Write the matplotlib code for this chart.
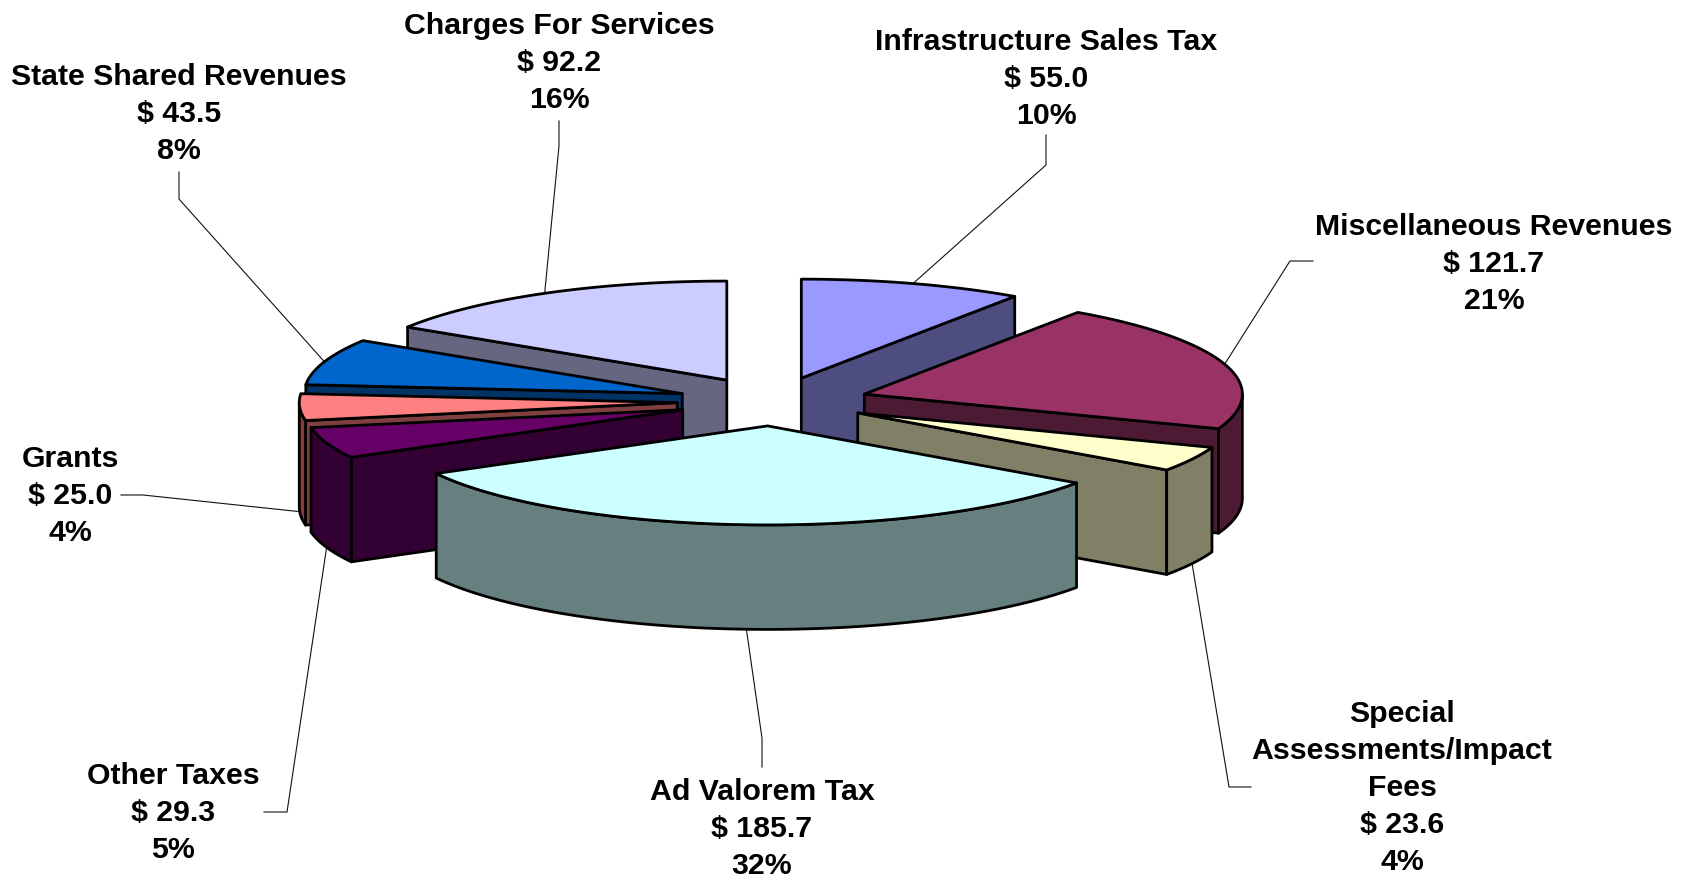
import matplotlib
matplotlib.use("Agg")
import matplotlib.pyplot as plt
import numpy as np

names = ["Infrastructure Sales Tax", "Miscellaneous Revenues", "Special\nAssessments/Impact\nFees",
         "Ad Valorem Tax", "Other Taxes", "Grants", "State Shared Revenues", "Charges For Services"]
values = [55.0, 121.7, 23.6, 185.7, 29.3, 25.0, 43.5, 92.2]

top_colors = ["#9999FF", "#993366", "#FFFFCC", "#CCFFFF", "#660066", "#FF8080", "#0066CC", "#CCCCFF"]
side_colors = ["#4D4D80", "#4D1A33", "#808066", "#668080", "#330033", "#804040", "#003366", "#666680"]

# back to front
draw_order = [7, 0, 6, 5, 4, 1, 2, 3]

label_x = [1046, 1494, 1402, 762, 173, 70, 179, 559]
label_y = [79, 264, 788, 829, 813, 496, 114, 63]
elbow = [[(1046, 165), (1046, 135)], [(1290, 261), (1313, 261)], [(1229, 787), (1251, 787)],
         [(762, 738), (762, 767)], [(287, 812), (264, 812)], [(143, 495), (121, 495)],
         [(179, 199), (179, 172)], [(559, 146), (559, 121)]]

cx, cy = 773, 401.5
rx, ry = 378, 99
depth = 104.5
explode_x, explode_y = 0.2535, 0.247
edge_w = 2.0

plt.rcParams['font.family'] = ['Liberation Sans', 'DejaVu Sans']
fig = plt.figure(figsize=(16.9, 8.8), dpi=100)
ax = fig.add_axes([0, 0, 1, 1])
ax.set_xlim(0, 1690)
ax.set_ylim(880, 0)
ax.axis('off')

total = sum(values)
angles = np.concatenate([[0], np.cumsum(values) / total * 360])


def pt(x0, y0, deg):
    t = np.radians(deg)
    return x0 + rx * np.sin(t), y0 - ry * np.cos(t)


def face(xs, ys, color, z):
    ax.fill(xs, ys, facecolor=color, edgecolor='black', linewidth=edge_w, joinstyle='round', zorder=z)


for n, i in enumerate(draw_order):
    a0, a1 = angles[i], angles[i + 1]
    mid = (a0 + a1) / 2
    x0, y0 = pt(cx, cy, mid)
    x0 = cx + (x0 - cx) * explode_x
    y0 = cy + (y0 - cy) * explode_y
    z = 3 + n
    # cut faces
    if np.sin(np.radians(a0)) < 0:
        xe, ye = pt(x0, y0, a0)
        face([x0, xe, xe, x0], [y0, ye, ye + depth, y0 + depth], side_colors[i], z)
    if np.sin(np.radians(a1)) > 0:
        xe, ye = pt(x0, y0, a1)
        face([x0, xe, xe, x0], [y0, ye, ye + depth, y0 + depth], side_colors[i], z)
    # outer wall, front part only
    lo, hi = max(a0, 90), min(a1, 270)
    if hi > lo:
        t = np.linspace(lo, hi, 80)
        xa, ya = pt(x0, y0, t)
        face(np.r_[xa, xa[::-1]], np.r_[ya, ya[::-1] + depth], side_colors[i], z)
    # top
    t = np.linspace(a0, a1, 120)
    xa, ya = pt(x0, y0, t)
    face(np.r_[x0, xa], np.r_[y0, ya], top_colors[i], z)
    # leader from the middle of the arc
    xs, ys = pt(x0, y0, mid)
    if np.cos(np.radians(mid)) < 0:
        ys += depth
    ax.plot([xs, elbow[i][0][0], elbow[i][1][0]], [ys, elbow[i][0][1], elbow[i][1][1]],
            color='#111111', linewidth=0.8, zorder=1)
    pct = round(values[i] / total * 100)
    ax.text(label_x[i], label_y[i], f"{names[i]}\n$ {values[i]:.1f}\n{pct}%", ha='center', va='center',
            fontsize=21.8, fontweight='bold', linespacing=1.42, color='black', zorder=20)

fig.savefig("out.png", dpi=100)
